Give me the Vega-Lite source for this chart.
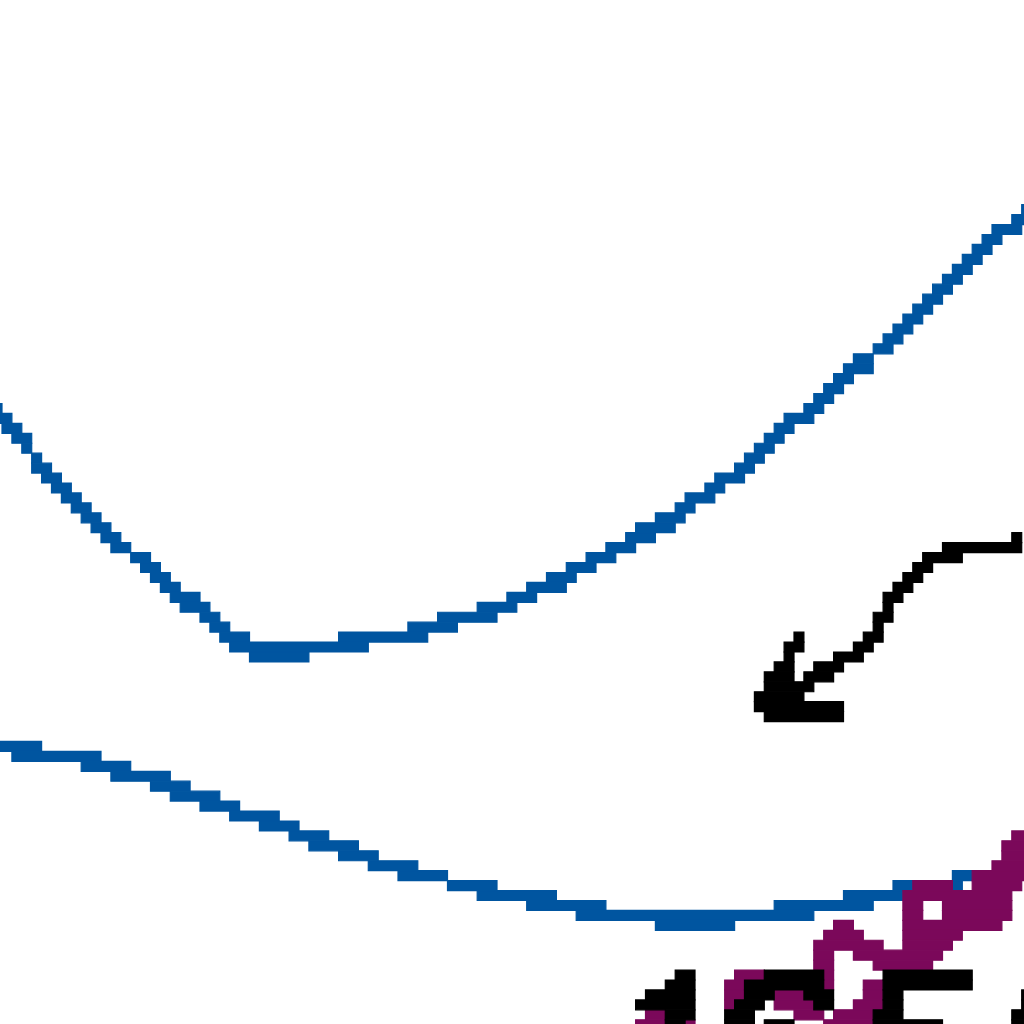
{
  "$schema": "https://vega.github.io/schema/vega-lite/v6.json",
  "description": "Pixelated close-up: two blue curves, a black arrow and purple/black glyph fragments",
  "width": 1024,
  "height": 1024,
  "autosize": {"type": "fit", "contains": "padding"},
  "padding": 0,
  "background": "white",
  "config": {"view": {"stroke": null}},
  "data": {"values": [
    {"k":"b","r":20,"r1":21,"c0":103,"c1":104},
    {"k":"b","r":21,"r1":22,"c0":102,"c1":104},
    {"k":"b","r":22,"r1":23,"c0":100,"c1":103},
    {"k":"b","r":23,"r1":24,"c0":99,"c1":101},
    {"k":"b","r":24,"r1":25,"c0":98,"c1":100},
    {"k":"b","r":25,"r1":26,"c0":97,"c1":99},
    {"k":"b","r":26,"r1":27,"c0":96,"c1":98},
    {"k":"b","r":27,"r1":28,"c0":95,"c1":97},
    {"k":"b","r":28,"r1":29,"c0":94,"c1":96},
    {"k":"b","r":29,"r1":30,"c0":93,"c1":95},
    {"k":"b","r":30,"r1":31,"c0":92,"c1":94},
    {"k":"b","r":31,"r1":32,"c0":91,"c1":93},
    {"k":"b","r":32,"r1":33,"c0":90,"c1":92},
    {"k":"b","r":33,"r1":34,"c0":89,"c1":91},
    {"k":"b","r":34,"r1":35,"c0":88,"c1":90},
    {"k":"b","r":35,"r1":36,"c0":86,"c1":88},
    {"k":"b","r":36,"r1":37,"c0":85,"c1":88},
    {"k":"b","r":37,"r1":38,"c0":84,"c1":86},
    {"k":"b","r":38,"r1":39,"c0":83,"c1":85},
    {"k":"b","r":39,"r1":40,"c0":82,"c1":84},
    {"k":"b","r":40,"r1":41,"c0":81,"c1":83},
    {"k":"b","r":40,"r1":41,"c0":-1,"c1":0},
    {"k":"b","r":41,"r1":42,"c0":79,"c1":82},
    {"k":"b","r":41,"r1":42,"c0":-1,"c1":1},
    {"k":"b","r":42,"r1":43,"c0":78,"c1":80},
    {"k":"b","r":42,"r1":43,"c0":0,"c1":2},
    {"k":"b","r":43,"r1":44,"c0":77,"c1":79},
    {"k":"b","r":43,"r1":44,"c0":1,"c1":3},
    {"k":"b","r":44,"r1":45,"c0":76,"c1":78},
    {"k":"b","r":44,"r1":45,"c0":2,"c1":3},
    {"k":"b","r":45,"r1":46,"c0":75,"c1":77},
    {"k":"b","r":45,"r1":46,"c0":3,"c1":4},
    {"k":"b","r":46,"r1":47,"c0":74,"c1":76},
    {"k":"b","r":46,"r1":47,"c0":3,"c1":5},
    {"k":"b","r":47,"r1":48,"c0":72,"c1":75},
    {"k":"b","r":47,"r1":48,"c0":4,"c1":6},
    {"k":"b","r":48,"r1":49,"c0":71,"c1":73},
    {"k":"b","r":48,"r1":49,"c0":5,"c1":7},
    {"k":"b","r":49,"r1":50,"c0":69,"c1":72},
    {"k":"b","r":49,"r1":50,"c0":6,"c1":8},
    {"k":"b","r":50,"r1":51,"c0":68,"c1":70},
    {"k":"b","r":50,"r1":51,"c0":7,"c1":9},
    {"k":"b","r":51,"r1":52,"c0":66,"c1":69},
    {"k":"b","r":51,"r1":52,"c0":8,"c1":10},
    {"k":"b","r":52,"r1":53,"c0":64,"c1":68},
    {"k":"b","r":52,"r1":53,"c0":9,"c1":11},
    {"k":"b","r":53,"r1":54,"c0":63,"c1":66},
    {"k":"b","r":53,"r1":54,"c0":10,"c1":12},
    {"k":"b","r":54,"r1":55,"c0":61,"c1":64},
    {"k":"b","r":54,"r1":55,"c0":11,"c1":13},
    {"k":"b","r":55,"r1":56,"c0":59,"c1":62},
    {"k":"b","r":55,"r1":56,"c0":13,"c1":15},
    {"k":"b","r":56,"r1":57,"c0":57,"c1":60},
    {"k":"b","r":56,"r1":57,"c0":14,"c1":16},
    {"k":"b","r":57,"r1":58,"c0":55,"c1":58},
    {"k":"b","r":57,"r1":58,"c0":15,"c1":17},
    {"k":"b","r":58,"r1":59,"c0":53,"c1":57},
    {"k":"b","r":58,"r1":59,"c0":16,"c1":18},
    {"k":"b","r":59,"r1":60,"c0":51,"c1":54},
    {"k":"b","r":59,"r1":60,"c0":17,"c1":20},
    {"k":"b","r":60,"r1":61,"c0":48,"c1":52},
    {"k":"b","r":60,"r1":61,"c0":18,"c1":21},
    {"k":"b","r":61,"r1":62,"c0":44,"c1":50},
    {"k":"b","r":61,"r1":62,"c0":20,"c1":22},
    {"k":"b","r":62,"r1":63,"c0":41,"c1":46},
    {"k":"b","r":62,"r1":63,"c0":21,"c1":23},
    {"k":"b","r":63,"r1":64,"c0":34,"c1":43},
    {"k":"b","r":63,"r1":64,"c0":22,"c1":25},
    {"k":"b","r":64,"r1":65,"c0":23,"c1":37},
    {"k":"b","r":65,"r1":66,"c0":25,"c1":31},

    {"k":"b","r":74,"r1":75,"c0":-1,"c1":4},
    {"k":"b","r":75,"r1":76,"c0":1,"c1":10},
    {"k":"b","r":76,"r1":77,"c0":8,"c1":13},
    {"k":"b","r":77,"r1":78,"c0":11,"c1":17},
    {"k":"b","r":78,"r1":79,"c0":15,"c1":19},
    {"k":"b","r":79,"r1":80,"c0":17,"c1":22},
    {"k":"b","r":80,"r1":81,"c0":20,"c1":24},
    {"k":"b","r":81,"r1":82,"c0":23,"c1":28},
    {"k":"b","r":82,"r1":83,"c0":26,"c1":30},
    {"k":"b","r":83,"r1":84,"c0":29,"c1":33},
    {"k":"b","r":84,"r1":85,"c0":31,"c1":36},
    {"k":"b","r":85,"r1":86,"c0":34,"c1":38},
    {"k":"b","r":86,"r1":87,"c0":37,"c1":42},
    {"k":"b","r":87,"r1":88,"c0":40,"c1":45},
    {"k":"b","r":88,"r1":89,"c0":45,"c1":50},
    {"k":"b","r":89,"r1":90,"c0":48,"c1":56},
    {"k":"b","r":89,"r1":90,"c0":85,"c1":91},
    {"k":"b","r":90,"r1":91,"c0":53,"c1":61},
    {"k":"b","r":90,"r1":91,"c0":78,"c1":88},
    {"k":"b","r":91,"r1":92,"c0":58,"c1":82},
    {"k":"b","r":92,"r1":93,"c0":66,"c1":74},
    {"k":"b","r":87,"r1":88,"c0":96,"c1":98},
    {"k":"b","r":88,"r1":89,"c0":90,"c1":92},
    {"k":"b","r":88,"r1":89,"c0":96,"c1":97},

    {"k":"p","r":83,"r1":84,"c0":102,"c1":104},
    {"k":"p","r":84,"r1":85,"c0":101,"c1":104},
    {"k":"p","r":85,"r1":86,"c0":101,"c1":104},
    {"k":"p","r":86,"r1":87,"c0":100,"c1":104},
    {"k":"p","r":87,"r1":88,"c0":98,"c1":104},
    {"k":"p","r":88,"r1":89,"c0":92,"c1":96},
    {"k":"p","r":88,"r1":89,"c0":98,"c1":103},
    {"k":"p","r":89,"r1":90,"c0":91,"c1":102},
    {"k":"p","r":90,"r1":91,"c0":91,"c1":93},
    {"k":"p","r":90,"r1":91,"c0":95,"c1":102},
    {"k":"p","r":91,"r1":92,"c0":91,"c1":93},
    {"k":"p","r":91,"r1":92,"c0":95,"c1":102},
    {"k":"p","r":92,"r1":93,"c0":84,"c1":86},
    {"k":"p","r":92,"r1":93,"c0":91,"c1":101},
    {"k":"p","r":93,"r1":94,"c0":83,"c1":87},
    {"k":"p","r":93,"r1":94,"c0":91,"c1":97},
    {"k":"p","r":94,"r1":95,"c0":82,"c1":89},
    {"k":"p","r":94,"r1":95,"c0":91,"c1":96},
    {"k":"p","r":95,"r1":96,"c0":82,"c1":84},
    {"k":"p","r":95,"r1":96,"c0":86,"c1":95},
    {"k":"p","r":96,"r1":97,"c0":82,"c1":84},
    {"k":"p","r":96,"r1":97,"c0":88,"c1":94},
    {"k":"p","r":97,"r1":98,"c0":74,"c1":77},
    {"k":"p","r":97,"r1":98,"c0":83,"c1":84},
    {"k":"p","r":98,"r1":99,"c0":73,"c1":75},
    {"k":"p","r":98,"r1":99,"c0":83,"c1":84},
    {"k":"p","r":98,"r1":99,"c0":87,"c1":89},
    {"k":"p","r":99,"r1":100,"c0":73,"c1":75},
    {"k":"p","r":99,"r1":100,"c0":78,"c1":81},
    {"k":"p","r":99,"r1":100,"c0":87,"c1":89},
    {"k":"p","r":100,"r1":101,"c0":73,"c1":74},
    {"k":"p","r":100,"r1":101,"c0":78,"c1":82},
    {"k":"p","r":100,"r1":101,"c0":86,"c1":89},
    {"k":"p","r":101,"r1":102,"c0":65,"c1":67},
    {"k":"p","r":101,"r1":102,"c0":80,"c1":83},
    {"k":"p","r":101,"r1":102,"c0":84,"c1":88},
    {"k":"p","r":102,"r1":103,"c0":64,"c1":67},
    {"k":"p","r":102,"r1":103,"c0":69,"c1":70},
    {"k":"p","r":102,"r1":103,"c0":83,"c1":88},

    {"k":"k","r":53,"r1":54,"c0":102,"c1":103},
    {"k":"k","r":54,"r1":55,"c0":95,"c1":103},
    {"k":"k","r":55,"r1":56,"c0":93,"c1":97},
    {"k":"k","r":56,"r1":57,"c0":92,"c1":94},
    {"k":"k","r":57,"r1":58,"c0":91,"c1":93},
    {"k":"k","r":58,"r1":59,"c0":90,"c1":92},
    {"k":"k","r":59,"r1":60,"c0":89,"c1":91},
    {"k":"k","r":60,"r1":61,"c0":89,"c1":90},
    {"k":"k","r":61,"r1":62,"c0":88,"c1":90},
    {"k":"k","r":62,"r1":63,"c0":88,"c1":89},
    {"k":"k","r":63,"r1":64,"c0":87,"c1":89},
    {"k":"k","r":63,"r1":64,"c0":80,"c1":81},
    {"k":"k","r":64,"r1":65,"c0":86,"c1":88},
    {"k":"k","r":64,"r1":65,"c0":79,"c1":81},
    {"k":"k","r":65,"r1":66,"c0":84,"c1":87},
    {"k":"k","r":65,"r1":66,"c0":79,"c1":80},
    {"k":"k","r":66,"r1":67,"c0":82,"c1":85},
    {"k":"k","r":66,"r1":67,"c0":78,"c1":80},
    {"k":"k","r":67,"r1":68,"c0":81,"c1":84},
    {"k":"k","r":67,"r1":68,"c0":77,"c1":80},
    {"k":"k","r":68,"r1":69,"c0":77,"c1":82},
    {"k":"k","r":69,"r1":70,"c0":76,"c1":81},
    {"k":"k","r":70,"r1":71,"c0":76,"c1":85},
    {"k":"k","r":71,"r1":72,"c0":77,"c1":85},

    {"k":"k","r":97,"r1":98,"c0":68,"c1":70},
    {"k":"k","r":97,"r1":98,"c0":77,"c1":83},
    {"k":"k","r":97,"r1":98,"c0":89,"c1":98},
    {"k":"k","r":98,"r1":99,"c0":67,"c1":70},
    {"k":"k","r":98,"r1":99,"c0":75,"c1":83},
    {"k":"k","r":98,"r1":99,"c0":89,"c1":98},
    {"k":"k","r":99,"r1":100,"c0":65,"c1":70},
    {"k":"k","r":99,"r1":100,"c0":75,"c1":78},
    {"k":"k","r":99,"r1":100,"c0":81,"c1":84},
    {"k":"k","r":99,"r1":100,"c0":89,"c1":91},
    {"k":"k","r":99,"r1":100,"c0":103,"c1":104},
    {"k":"k","r":100,"r1":101,"c0":64,"c1":70},
    {"k":"k","r":100,"r1":101,"c0":74,"c1":77},
    {"k":"k","r":100,"r1":101,"c0":82,"c1":84},
    {"k":"k","r":100,"r1":101,"c0":89,"c1":91},
    {"k":"k","r":100,"r1":101,"c0":103,"c1":104},
    {"k":"k","r":101,"r1":102,"c0":67,"c1":70},
    {"k":"k","r":101,"r1":102,"c0":73,"c1":76},
    {"k":"k","r":101,"r1":102,"c0":88,"c1":91},
    {"k":"k","r":101,"r1":102,"c0":102,"c1":104},
    {"k":"k","r":102,"r1":103,"c0":67,"c1":69},
    {"k":"k","r":102,"r1":103,"c0":73,"c1":76},
    {"k":"k","r":102,"r1":103,"c0":77,"c1":80},
    {"k":"k","r":102,"r1":103,"c0":88,"c1":95},
    {"k":"k","r":102,"r1":103,"c0":102,"c1":104}
  ]},
  "mark": {"type": "rect", "clip": true, "strokeWidth": 1.2},
  "encoding": {
    "x": {"field": "c0", "type": "quantitative", "axis": null,
      "scale": {"domain": [-0.202, 103.232], "nice": false, "zero": false}},
    "x2": {"field": "c1"},
    "y": {"field": "r", "type": "quantitative", "axis": null,
      "scale": {"domain": [-0.594, 102.425], "nice": false, "zero": false, "reverse": true}},
    "y2": {"field": "r1"},
    "color": {"field": "k", "type": "nominal", "legend": null,
      "scale": {"domain": ["b", "p", "k"], "range": ["#0055a0", "#7b085a", "#000000"]}},
    "stroke": {"field": "k", "type": "nominal", "legend": null,
      "scale": {"domain": ["b", "p", "k"], "range": ["#0055a0", "#7b085a", "#000000"]}}
  }
}
